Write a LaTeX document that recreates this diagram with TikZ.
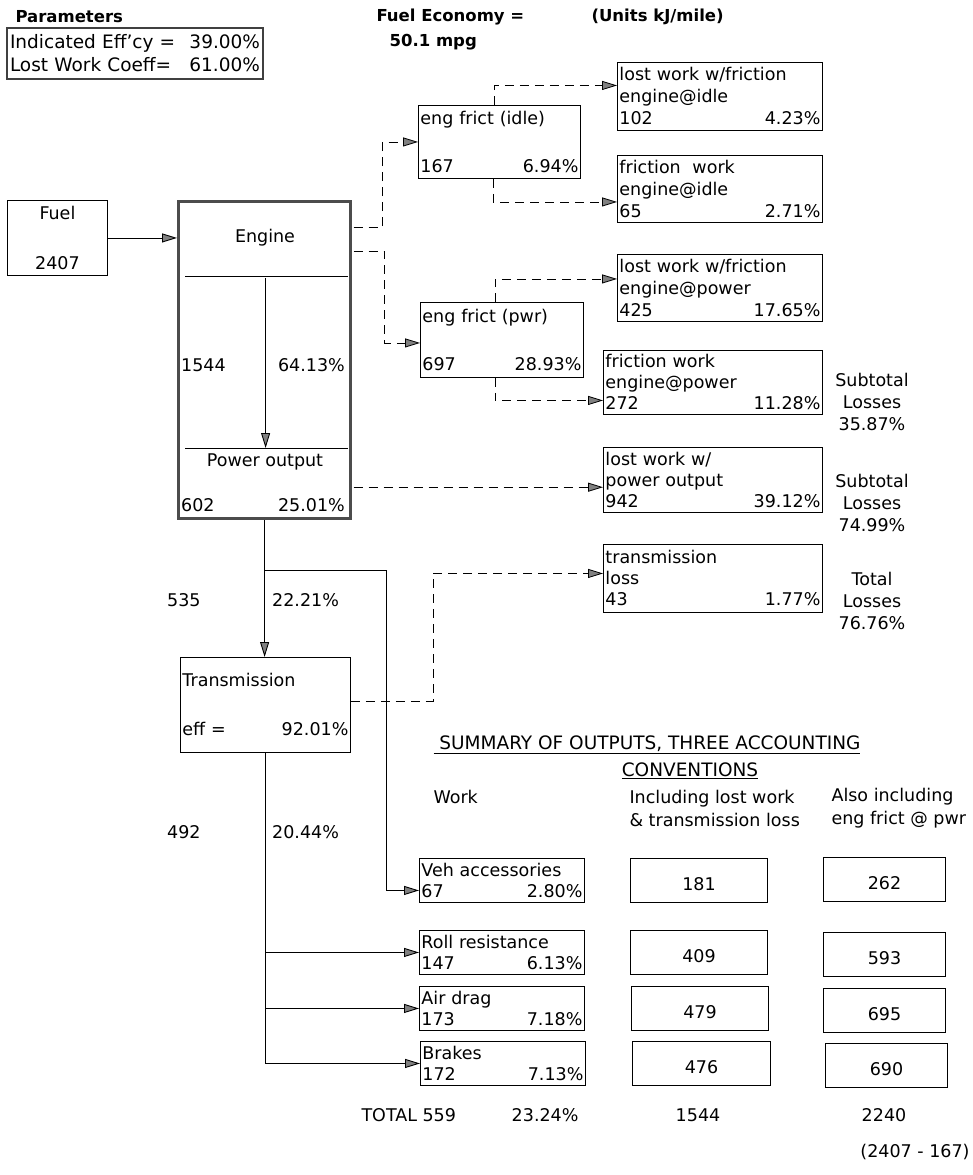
\documentclass[tikz,border=0pt]{standalone}
\usepackage{fontspec}
\setmainfont{DejaVu Sans}
\usetikzlibrary{positioning,arrows.meta,calc}
\newcommand{\splitline}[2]{\hbox to\hsize{#1\hfil #2}}
\tikzset{
  >={Triangle[length=15pt,width=9pt,fill=black!50]},
  flow/.style={line width=0.9pt},
  loss/.style={line width=0.8pt, dash pattern=on 9pt off 6pt},
}

\begin{document}
\begin{tikzpicture}[
  x=1pt,y=-1pt,
  every node/.style={font=\fontsize{17.5}{22}\selectfont},
  hdr/.style={font=\fontsize{16.5}{22}\selectfont\bfseries},
  flowbox/.style={draw, line width=0.9pt, anchor=north west, inner sep=2pt, align=left},
  sumbox/.style={flowbox, text width=161pt, minimum height=44pt,
    font=\fontsize{17.5}{21}\selectfont},
  valbox/.style={draw, line width=0.9pt, anchor=north west, minimum height=44pt,
    align=center, font=\fontsize{17.5}{21}\selectfont},
  enginebox/.style={draw=black!70, line width=3.2pt, anchor=north west,
    minimum width=172pt, minimum height=317pt},
  num/.style={inner sep=1pt},
]
\useasboundingbox (0,0) rectangle (972,1175);

% header
\node[hdr, anchor=west] (partitle) at (12,17) {Parameters};
\node[draw=black!75, line width=2pt, anchor=north west, text width=250pt, inner sep=3pt,
  align=left, minimum height=51pt, font=\fontsize{18.5}{23}\selectfont] (params) at (6,27)
  {\splitline{Indicated Eff'cy =}{39.00\%}\\\splitline{Lost Work Coeff=}{61.00\%}};
\node[hdr, anchor=west] (fueco) at (373,17) {Fuel Economy =};
\node[hdr, anchor=west] (mpg) at (386,42) {50.1 mpg};
\node[hdr, anchor=west] (units) at (588,17) {(Units kJ/mile)};

% fuel and engine
\node[flowbox, align=center, text width=96pt, minimum height=75pt] (fuel) at (7,200) {Fuel\\[28pt]2407};
\node[enginebox] (engine) at (177,200) {};
\node (englbl) at (265,238) {Engine};
\draw[flow] ($(engine.north west)+(8,76)$) -- ($(engine.north east)+(-4,76)$);
\draw[flow] ($(engine.north west)+(8,248)$) -- ($(engine.north east)+(-4,248)$);
\coordinate (ein) at ($(engine.north)+(1,78)$);
\coordinate (eout) at ($(engine.north)+(1,248)$);
\node[anchor=west, num] (e1544) at (180,365) {1544};
\node[anchor=east, num] (e6413) at (346,365) {64.13\%};
\node (pwrlbl) at (265,462) {Power output};
\node[anchor=west, num] (e602) at (180,505) {602};
\node[anchor=east, num] (e2501) at (346,505) {25.01\%};

% engine friction
\node[flowbox, text width=158pt, minimum height=73pt] (idle) at (418,105)
  {eng frict (idle)\\[26pt]\splitline{167}{6.94\%}};
\node[flowbox, text width=159pt, minimum height=75pt] (pwr) at (420,302)
  {eng frict (pwr)\\[26pt]\splitline{697}{28.93\%}};

% losses
\node[flowbox, text width=201pt, minimum height=68pt] (lwidle) at (617,62)
  {lost work w/friction\\engine@idle\\\splitline{102}{4.23\%}};
\node[flowbox, text width=201pt, minimum height=67pt] (frwidle) at (617,155)
  {friction\ \ work\\engine@idle\\\splitline{65}{2.71\%}};
\node[flowbox, text width=201pt, minimum height=67pt] (lwpwr) at (617,254)
  {lost work w/friction\\engine@power\\\splitline{425}{17.65\%}};
\node[flowbox, text width=215pt, minimum height=64pt,
  font=\fontsize{17.5}{21}\selectfont] (frwpwr) at (603,350)
  {friction work\\engine@power\\\splitline{272}{11.28\%}};
\node[flowbox, text width=215pt, minimum height=65pt,
  font=\fontsize{17.5}{21}\selectfont] (lwout) at (603,447)
  {lost work w/\\power output\\\splitline{942}{39.12\%}};
\node[flowbox, text width=215pt, minimum height=68pt,
  font=\fontsize{17.5}{21}\selectfont] (trloss) at (603,544)
  {transmission\\loss\\\splitline{43}{1.77\%}};

\node[align=center] (sub1) at (872,402) {Subtotal\\Losses\\35.87\%};
\node[align=center] (sub2) at (872,503) {Subtotal\\Losses\\74.99\%};
\node[align=center] (tot) at (872,601) {Total\\Losses\\76.76\%};

% transmission
\node[flowbox, text width=166pt, minimum height=95pt] (trans) at (180,657)
  {Transmission\\[27pt]\splitline{eff =}{92.01\%}};
\node[anchor=west, num] (t535) at (166,600) {535};
\node[anchor=west, num] (t2221) at (271,600) {22.21\%};
\node[anchor=west, num] (t492) at (166,832) {492};
\node[anchor=west, num] (t2044) at (271,832) {20.44\%};

% summary
\node[anchor=west, font=\fontsize{18.5}{22}\selectfont] (sumhead) at (430,745)
  {\underline{\ SUMMARY OF OUTPUTS, THREE ACCOUNTING}};
\node[font=\fontsize{18.5}{22}\selectfont] (sumconv) at (690,771) {\underline{CONVENTIONS}};
\node[anchor=west] (colwork) at (430,797) {Work};
\node[anchor=west, align=left, font=\fontsize{17.5}{23}\selectfont] (colincl) at (626,808)
  {Including lost work\\\& transmission loss};
\node[anchor=west, align=left, font=\fontsize{17.5}{23}\selectfont] (colalso) at (828,808)
  {Also including\\eng frict @ pwr};

\node[sumbox] (veh) at (419,858) {Veh accessories\\\splitline{67}{2.80\%}};
\node[sumbox] (roll) at (419,930) {Roll resistance\\\splitline{147}{6.13\%}};
\node[sumbox] (air) at (419,986) {Air drag\\\splitline{173}{7.18\%}};
\node[sumbox] (brakes) at (420,1041) {Brakes\\\splitline{172}{7.13\%}};

\node[valbox, minimum width=137pt] (vehb) at (630,858) {\mbox{}\\181};
\node[valbox, minimum width=137pt] (rollb) at (630,930) {\mbox{}\\409};
\node[valbox, minimum width=137pt] (airb) at (631,986) {\mbox{}\\479};
\node[valbox, minimum width=138pt] (brakesb) at (632,1041) {\mbox{}\\476};
\node[valbox, minimum width=122pt] (vehc) at (823,857) {\mbox{}\\262};
\node[valbox, minimum width=122pt] (rollc) at (823,932) {\mbox{}\\593};
\node[valbox, minimum width=122pt] (airc) at (823,988) {\mbox{}\\695};
\node[valbox, minimum width=122pt] (brakesc) at (825,1043) {\mbox{}\\690};

\node[anchor=west] (total) at (358,1115) {TOTAL 559};
\node[anchor=east] (totpct) at (582,1115) {23.24\%};
\node (totincl) at (698,1115) {1544};
\node (totalso) at (884,1115) {2240};
\node (totnote) at (915,1152) {(2407 - 167)};

% solid flows
\draw[flow,->] (fuel.east) -- (fuel.east -| engine.west);
\draw[flow,->] (ein) -- (eout);
\draw[flow,->] (engine.south) -- (engine.south |- trans.north);
\coordinate (accbr) at ($(engine.south)+(0,50)$);
\draw[flow,->] (accbr) -- ++(122,0) |- ($(veh.west)+(0,10)$);
\draw[flow,->] (trans.south) |- (brakes.west);
\draw[flow,->] (trans.south |- roll.west) -- (roll.west);
\draw[flow,->] (trans.south |- air.west) -- (air.west);

% dashed losses
\draw[loss,->] ($(engine.north east)+(1.5,27)$) -- ++(29,0) |- (idle.west);
\draw[loss,->] ($(engine.north east)+(1.5,51)$) -- ++(31,0) |- ($(pwr.west)+(0,3)$);
\draw[loss,->] ($(idle.north)+(-5,0)$) |- ($(lwidle.west)+(0,-11)$);
\draw[loss,->] ($(idle.south)+(-6,0)$) |- ($(frwidle.west)+(0,13)$);
\draw[loss,->] ($(pwr.north)+(-7,0)$) |- ($(lwpwr.west)+(0,-9)$);
\draw[loss,->] ($(pwr.south)+(-7,0)$) |- ($(frwpwr.west)+(0,18)$);
\coordinate (pwrtap) at ($(engine.south east)+(1.5,-33)$);
\draw[loss,->] (pwrtap) -- (pwrtap -| lwout.west);
\draw[loss,->] ($(trans.east)+(0,-4)$) -- ++(82,0) |- ($(trloss.west)+(0,-5)$);

\end{tikzpicture}
\end{document}
